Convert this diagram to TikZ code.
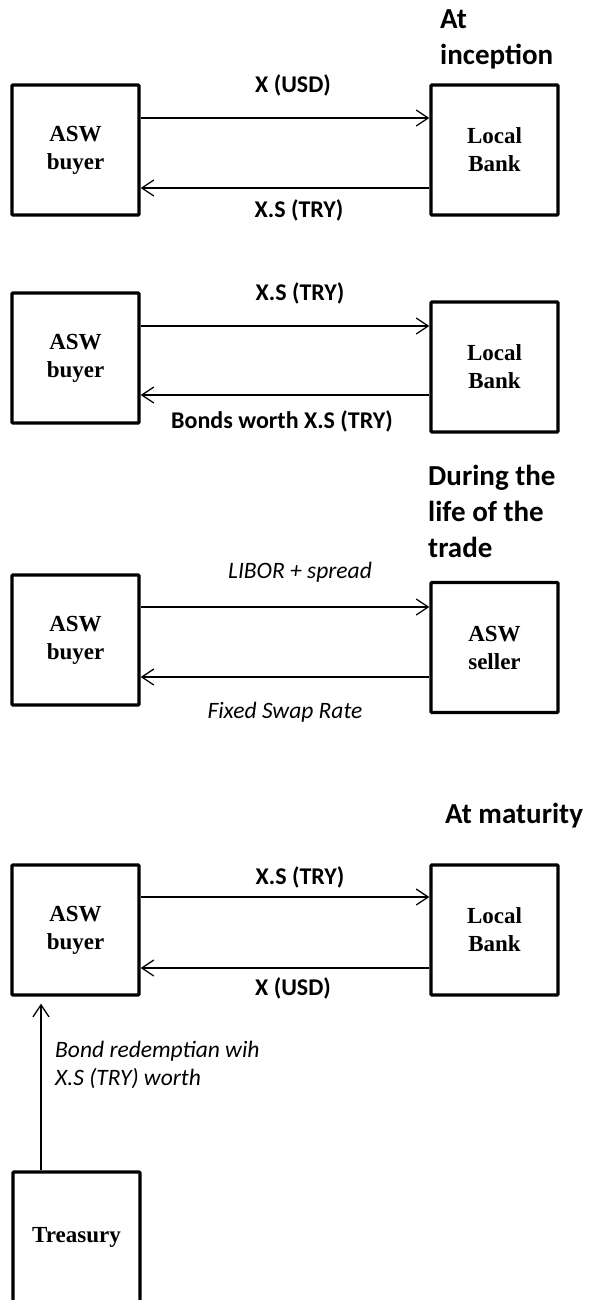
\documentclass[tikz,border=0pt]{standalone}
\usepackage{fontspec}
\setmainfont{Liberation Serif}
\newfontfamily\calibri{Carlito}
\usetikzlibrary{arrows.meta}

\tikzset{
  party/.style={draw, line width=3.3pt, rounded corners=1pt, minimum width=127pt,
    minimum height=130pt, inner sep=0pt, align=center,
    font=\fontsize{23}{28}\selectfont\bfseries},
  flow/.style={-{Straight Barb[length=12pt,width=16pt,line width=1.3pt]}, line width=1.3pt},
  amount/.style={font=\calibri\bfseries\fontsize{24}{28}\selectfont, inner sep=0pt, anchor=base},
  rate/.style={font=\calibri\itshape\fontsize{23.5}{28}\selectfont, inner sep=0pt, anchor=base},
  phase/.style={font=\calibri\bfseries\fontsize{29}{36}\selectfont, inner sep=0pt,
    anchor=base west, align=left},
}

\begin{document}
\begin{tikzpicture}[x=1pt, y=-1pt]
\useasboundingbox (0,0) rectangle (592,1300);
\clip (0,0) rectangle (592,1300);

% --- At inception (base anchor sits on the last line) ---
\node[phase] (h1) at (440,65) {At\\inception};
\node[party] (b1) at (75.5,150) {ASW\\buyer};
\node[party] (l1) at (494.5,150) {Local\\Bank};
\draw[flow] (b1.east |- 0,118) -- (l1.west |- 0,118);
\draw[flow] (l1.west |- 0,188) -- (b1.east |- 0,188);
\node[amount] (t1a) at (293,93) {X (USD)};
\node[amount] (t1b) at (299,217) {X.S (TRY)};

% --- bond purchase ---
\node[party] (b2) at (75.5,358) {ASW\\buyer};
\node[party] (l2) at (494.5,367) {Local\\Bank};
\draw[flow] (b2.east |- 0,326) -- (l2.west |- 0,326);
\draw[flow] (l2.west |- 0,395) -- (b2.east |- 0,395);
\node[amount] (t2a) at (300,300) {X.S (TRY)};
\node[amount] (t2b) at (282,428) {Bonds worth X.S (TRY)};

% --- During the life of the trade ---
\node[phase] (h3) at (428,557) {During the\\life of the\\trade};
\node[party] (b3) at (75.5,640) {ASW\\buyer};
\node[party] (s3) at (494.5,647.5) {ASW\\seller};
\draw[flow] (b3.east |- 0,607) -- (s3.west |- 0,607);
\draw[flow] (s3.west |- 0,677) -- (b3.east |- 0,677);
\node[rate] (t3a) at (300,578) {LIBOR + spread};
\node[rate] (t3b) at (285,718) {Fixed Swap Rate};

% --- At maturity ---
\node[phase] (h4) at (445,823) {At maturity};
\node[party] (b4) at (75.5,930) {ASW\\buyer};
\node[party] (l4) at (494.5,930) {Local\\Bank};
\draw[flow] (b4.east |- 0,897) -- (l4.west |- 0,897);
\draw[flow] (l4.west |- 0,968) -- (b4.east |- 0,968);
\node[amount] (t4a) at (300,884) {X.S (TRY)};
\node[amount] (t4b) at (293,995) {X (USD)};

% --- redemption from the treasury ---
\node[party] (tr) at (76.5,1237) {Treasury};
\draw[flow, shorten >=7pt] (tr.north -| 41,0) -- (b4.south -| 41,0);
\node[rate, anchor=base west, align=left] (t5) at (55,1085) {Bond redemptian wih\\X.S (TRY) worth};
\end{tikzpicture}
\end{document}
